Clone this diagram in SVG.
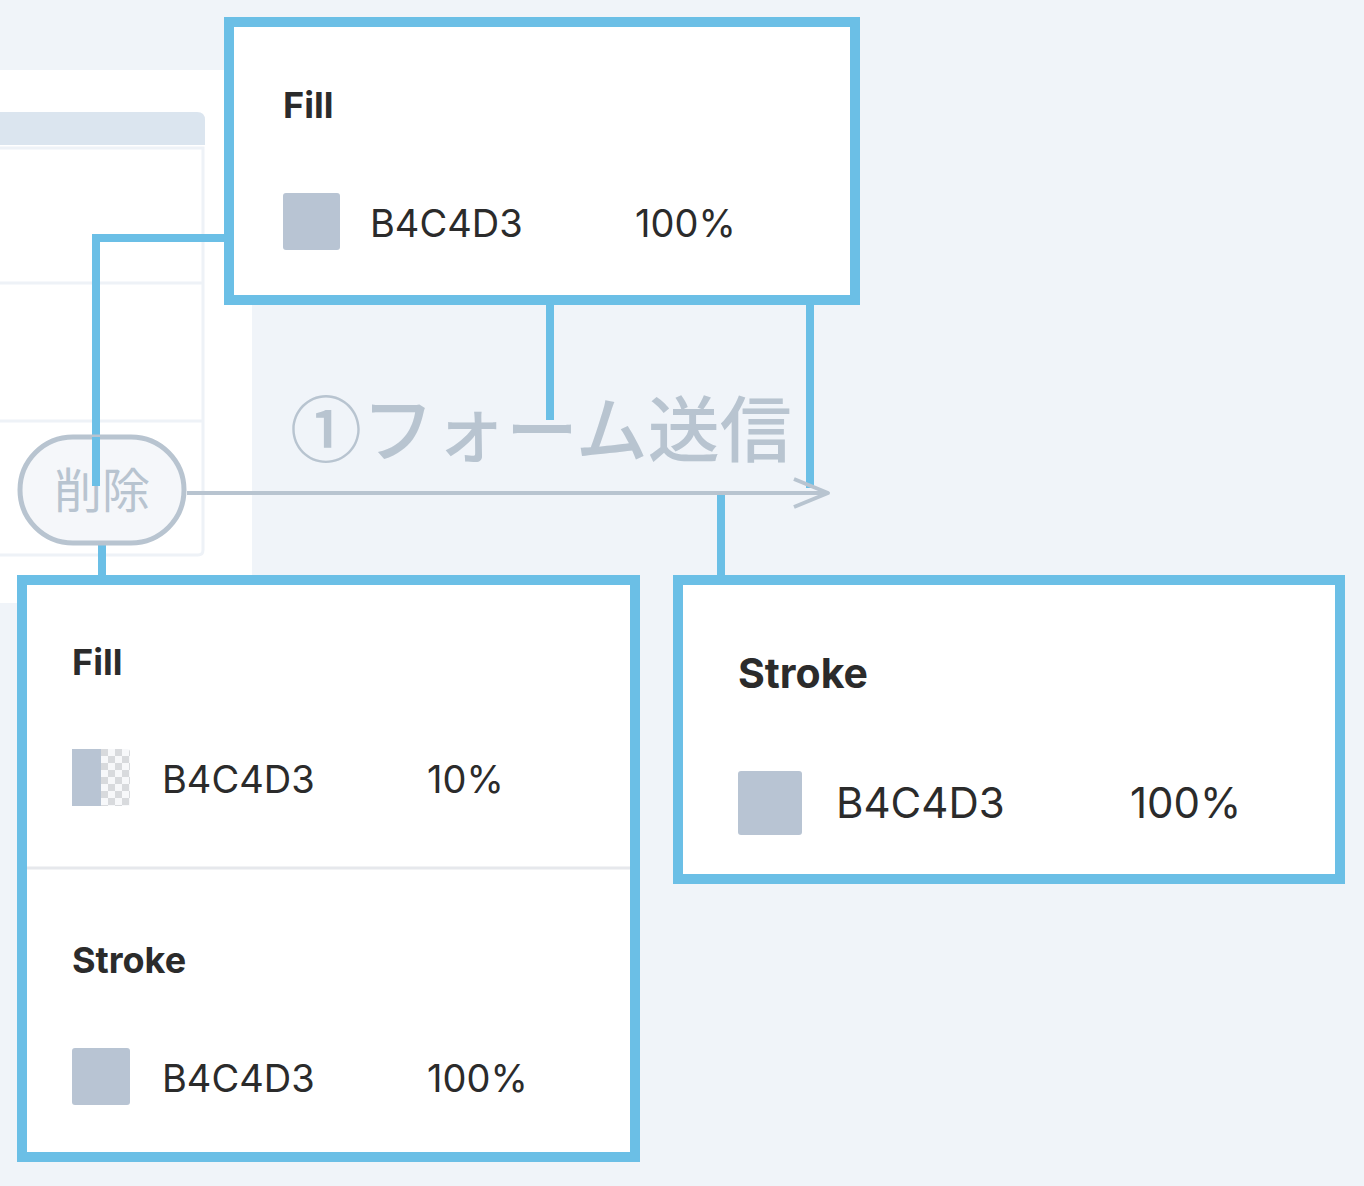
<svg xmlns="http://www.w3.org/2000/svg" width="1364" height="1186" viewBox="0 0 1364 1186">
<defs>
<style>
.box{fill:#fff;stroke:#6bbfe6;stroke-width:10}
.con{fill:none;stroke:#6bbfe6;stroke-width:8}
.h{font-family:Inter,"Liberation Sans",sans-serif;font-weight:700;fill:#2b2b2b}
.v{font-family:Inter,"Liberation Sans",sans-serif;fill:#2b2b2b}
.sw{fill:#b8c4d3}
</style>
<pattern id="chk" x="101" y="749" width="14" height="14" patternUnits="userSpaceOnUse">
<rect width="14" height="14" fill="#f7f8fa"/><rect width="7" height="7" fill="#d8dadd"/><rect x="7" y="7" width="7" height="7" fill="#d8dadd"/>
</pattern>
<marker id="ar" markerWidth="12" markerHeight="12" refX="10" refY="6" orient="auto" markerUnits="userSpaceOnUse"><path d="M0,-6 L40,6" /></marker>
</defs>
<rect width="1364" height="1186" fill="#f0f4f9"/>
<g id="panel">
<rect x="0" y="70" width="252" height="533" fill="#fff"/>
<path d="M0,112 H197 Q205,112 205,120 V145 H0 Z" fill="#dbe5ef"/>
<path d="M0,148 H203 V550 Q203,555 198,555 H0" fill="none" stroke="#eef2f7" stroke-width="3"/>
<line x1="0" y1="283" x2="203" y2="283" stroke="#eef2f7" stroke-width="3"/>
<line x1="0" y1="421" x2="203" y2="421" stroke="#eef2f7" stroke-width="3"/>
</g>
<text x="290" y="456" font-family="'Noto Sans CJK JP',sans-serif" font-size="72" font-weight="500" fill="#b8c4d0">①フォーム送信</text>
<g id="connectors">
<polyline class="con" points="226,238 96,238 96,486"/>
<line class="con" x1="550" y1="300" x2="550" y2="420"/>
<line class="con" x1="810" y1="300" x2="810" y2="488"/>
<line class="con" x1="721" y1="493" x2="721" y2="580"/>
<line class="con" x1="102" y1="533" x2="102" y2="580"/>
<line x1="187" y1="493" x2="828" y2="493" stroke="#b8c4d0" stroke-width="4"/>
<polyline points="794,479 828,493 794,507" fill="none" stroke="#b8c4d0" stroke-width="4" stroke-linejoin="round"/>
</g>
<g id="pill">
<rect x="20" y="437" width="164" height="106" rx="53" fill="#f5f7fa" stroke="#b8c4d0" stroke-width="5"/>
<text x="102" y="508" text-anchor="middle" font-family="'Noto Sans CJK JP',sans-serif" font-size="48" fill="#b8c4d0">削除</text>
</g>
<line class="con" x1="96" y1="437" x2="96" y2="486"/>
<g id="top-fill">
<rect class="box" x="229" y="22" width="626" height="278"/>
<text class="h" x="283" y="118" font-size="36">Fill</text>
<rect class="sw" x="283" y="193" width="57" height="57" rx="3"/>
<text class="v" x="370" y="237" font-size="38">B4C4D3</text>
<text class="v" x="635" y="237" font-size="38">100%</text>
</g>
<g id="bottom-left">
<rect class="box" x="22" y="580" width="613" height="577"/>
<text class="h" x="72" y="675" font-size="36">Fill</text>
<rect x="72" y="749" width="58" height="57" rx="3" fill="url(#chk)"/>
<rect x="72" y="749" width="29" height="57" fill="#b8c4d3"/>
<text class="v" x="162" y="793" font-size="38">B4C4D3</text>
<text class="v" x="427" y="793" font-size="38">10%</text>
<line x1="27" y1="868" x2="630" y2="868" stroke="#e6e8ec" stroke-width="3"/>
<text class="h" x="72" y="973" font-size="36">Stroke</text>
<rect class="sw" x="72" y="1048" width="58" height="57" rx="3"/>
<text class="v" x="162" y="1092" font-size="38">B4C4D3</text>
<text class="v" x="427" y="1092" font-size="38">100%</text>
</g>
<g id="right-stroke">
<rect class="box" x="678" y="580" width="662" height="299"/>
<text class="h" x="738" y="688" font-size="41">Stroke</text>
<rect class="sw" x="738" y="771" width="64" height="64" rx="3"/>
<text class="v" x="836" y="818" font-size="42">B4C4D3</text>
<text class="v" x="1130" y="818" font-size="42">100%</text>
</g>
</svg>
